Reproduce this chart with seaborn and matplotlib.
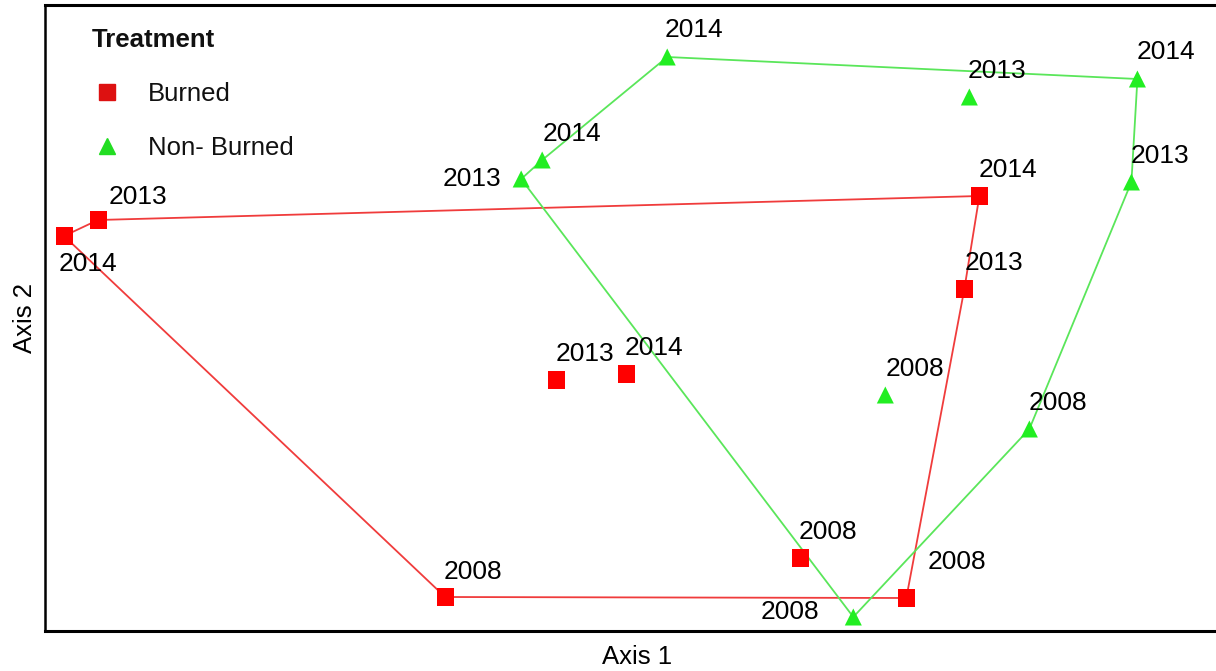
import matplotlib
matplotlib.use("Agg")
import matplotlib.pyplot as plt
from matplotlib.lines import Line2D
import seaborn as sns
import pandas as pd

sns.set_theme(style="white")
plt.rcParams["font.family"] = ["Liberation Sans", "DejaVu Sans"]

# Ordination scores (site x year), arbitrary axis units
treatment = ["Burned"] * 9 + ["Non- Burned"] * 9
year = ["2014", "2013", "2014", "2013", "2013", "2014", "2008", "2008", "2008",
        "2014", "2013", "2014", "2014", "2013", "2013", "2008", "2008", "2008"]
axis1 = [64, 98, 979, 964, 556, 626, 800, 445, 906,
         667, 969, 1137, 542, 521, 1131, 885, 1029, 853]
axis2 = [435, 451, 475, 382, 291, 297, 113, 74, 73,
         614, 574, 592, 511, 492, 489, 276, 242, 54]

# Hull vertex order (indices into the arrays above), closed polygon
hull_burned = [0, 1, 2, 3, 8, 7, 0]
hull_nonburned = [13, 12, 9, 11, 14, 16, 17, 13]

# Label offsets in pixels (dx, dy); negative dx means right-aligned to the left
label_dx = [24, 40, 29, 30, 29, 28, 28, 28, 51,
            27, 28, 29, 30, -20, 29, 30, 29, -34]
label_dy = [-28, 23, 26, 26, 26, 26, 26, 25, 36,
            27, 26, 27, 26, 0, 26, 26, 26, 5]

df = pd.DataFrame({"Treatment": treatment, "Year": year,
                   "Axis 1": axis1, "Axis 2": axis2})

colors = {"Burned": "#ff0000", "Non- Burned": "#22ee22"}
line_colors = {"Burned": "#f03c3c", "Non- Burned": "#5ae65a"}

fig = plt.figure(figsize=(12.16, 6.71), dpi=100)
ax = fig.add_axes([45 / 1216, 40 / 671, 1.01 - 45 / 1216, 626 / 671])

for name, hull in (("Burned", hull_burned), ("Non- Burned", hull_nonburned)):
    hdf = df.iloc[hull].reset_index(drop=True)
    sns.lineplot(data=hdf, x="Axis 1", y="Axis 2", sort=False, estimator=None,
                 color=line_colors[name], linewidth=1.3, ax=ax, zorder=2)

sns.scatterplot(data=df, x="Axis 1", y="Axis 2", hue="Treatment", style="Treatment",
                markers={"Burned": "s", "Non- Burned": "^"},
                palette=colors, s=150, linewidth=0, ax=ax, zorder=3, legend=False)

px2pt = 72 / 100
for i in range(len(df)):
    ha = "right" if label_dx[i] < 0 else "center"
    ax.annotate(year[i], (axis1[i], axis2[i]),
                xytext=(label_dx[i] * px2pt, label_dy[i] * px2pt), textcoords="offset points",
                ha=ha, va="center", fontsize=19, color="#000000", zorder=4)

ax.set_xlim(45, 1216 * 1.01 - 45 * 0.01)
ax.set_ylim(40, 666)
ax.set_xticks([])
ax.set_yticks([])
ax.set_xlabel("Axis 1", fontsize=18.5, labelpad=10, color="#000000")
ax.set_ylabel("Axis 2", fontsize=18.5, labelpad=6, color="#000000")
for side in ("left", "top", "bottom"):
    ax.spines[side].set_color("#000000")
    ax.spines[side].set_linewidth(2.2)
ax.spines["left"].set_linewidth(1.8)
ax.spines["right"].set_visible(False)

handles = [
    Line2D([], [], marker="s", linestyle="", color="#dd1111", markersize=11),
    Line2D([], [], marker="^", linestyle="", color="#22dd22", markersize=11),
]
leg = ax.legend(handles, ["Burned", "Non- Burned"], title="Treatment",
                loc="upper left", bbox_to_anchor=(0.020, 1.0), frameon=False,
                fontsize=18.5, title_fontsize=18.5, labelspacing=1.17,
                handlelength=1.2, handletextpad=1.0, alignment="left", borderpad=0.4,
                labelcolor="#111111")
leg.get_title().set_fontweight("bold")
leg.get_title().set_color("#111111")

fig.savefig("out.png", dpi=100)
